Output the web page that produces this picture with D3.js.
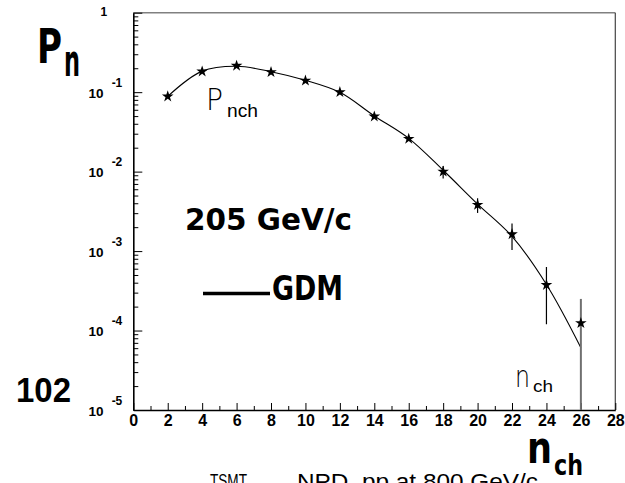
<!DOCTYPE html>
<html><head><meta charset="utf-8">
<script src="https://cdn.jsdelivr.net/npm/d3@7"></script>
<style>
html,body{margin:0;padding:0;background:#fff;}
svg{display:block;}
</style></head><body>
<script>
// Charged multiplicity distribution P(n_ch), 205 GeV/c, with GDM fit
const nch   = [2, 4, 6, 8, 10, 12, 14, 16, 18, 20, 22, 24, 26];
const pn    = [0.0883, 0.182, 0.215, 0.179, 0.140, 0.100, 0.0494, 0.0259, 0.0100, 0.00382, 0.00163, 0.000375, 0.000124];
const pnErr = [0, 0, 0, 0, 0, 0, 0, 0.0015, 0.0018, 0.0008, 0.0006, 0.000255, 0.000126];
const gdm   = [0.0885, 0.184, 0.212, 0.181, 0.141, 0.0995, 0.0502, 0.0262, 0.0104, 0.0039, 0.00153, 0.00038, 0.0000609];
const xMajor = [0, 2, 4, 6, 8, 10, 12, 14, 16, 18, 20, 22, 24, 26, 28];
const xMinor = [1, 3, 5, 7, 9, 11, 13, 15, 17, 19, 21, 23, 25, 27];
const yDecades = [1e-5, 1e-4, 1e-3, 1e-2, 1e-1, 1];
const yExponents = ["-5", "-4", "-3", "-2", "-1", "0"];

const W = 625, H = 483;
const frame = {left: 133.3, right: 615.3, top: 12.7, bottom: 410};

const x = d3.scaleLinear().domain([0, 28]).range([frame.left, frame.right]);
const y = d3.scaleLog().domain([1e-5, 1]).range([frame.bottom, frame.top]);

const svg = d3.select("body").append("svg").attr("width", W).attr("height", H);

const tickFont = "'Liberation Sans', Arial, sans-serif";
const comic = "'Comic Sans MS', 'DejaVu Sans', sans-serif";

// top and right frame lines
svg.append("line").attr("x1", frame.left).attr("x2", frame.right)
  .attr("y1", frame.top).attr("y2", frame.top)
  .attr("stroke", "#808080").attr("stroke-width", 1.5);
svg.append("line").attr("x1", frame.right).attr("x2", frame.right)
  .attr("y1", frame.top).attr("y2", frame.bottom)
  .attr("stroke", "#444").attr("stroke-width", 1.2);

// x axis: major ticks with labels, minor ticks without
const gxMinor = svg.append("g").attr("transform", `translate(0,${frame.bottom})`)
  .call(d3.axisBottom(x).tickValues(xMinor).tickSizeInner(-4).tickSizeOuter(0).tickFormat(""));
gxMinor.select(".domain").remove();
const gx = svg.append("g").attr("transform", `translate(0,${frame.bottom})`)
  .call(d3.axisBottom(x).tickValues(xMajor).tickSizeInner(-7).tickSizeOuter(0).tickPadding(5).tickFormat(d3.format("d")));
gx.select(".domain").attr("stroke-width", 1.6);
gx.selectAll("text").attr("font-family", tickFont).attr("font-weight", "bold")
  .attr("font-size", 16).attr("fill", "#000");

// y axis: decade ticks with 10^k labels, minor ticks at 2..9
const yMinor = [];
for (let k = -5; k < 0; k++) for (let j = 2; j <= 9; j++) yMinor.push(j * Math.pow(10, k));
const gyMinor = svg.append("g").attr("transform", `translate(${frame.left},0)`)
  .call(d3.axisLeft(y).tickValues(yMinor).tickSizeInner(-5).tickSizeOuter(0).tickFormat(""));
gyMinor.select(".domain").remove();
const gy = svg.append("g").attr("transform", `translate(${frame.left},0)`)
  .call(d3.axisLeft(y).tickValues(yDecades).tickSizeInner(-9).tickSizeOuter(0).tickPadding(11).tickFormat(""));
gy.select(".domain").attr("stroke-width", 1.6);
gy.selectAll(".tick text").each(function(d, i) {
  const t = d3.select(this)
    .attr("font-family", tickFont).attr("font-weight", "bold").attr("font-size", 13.5).attr("fill", "#000");
  if (d === 1) {
    t.attr("x", -26).attr("dy", "0.2em").attr("font-size", 12).text("1");
  } else {
    t.attr("dy", "0.38em").text("10");
    t.append("tspan").attr("dx", 8).attr("dy", -11).attr("font-size", 12).text(yExponents[i]);
  }
});

// GDM curve
const line = d3.line().x((d, i) => x(nch[i])).y(d => y(d)).curve(d3.curveCatmullRom.alpha(0.5));
svg.append("path").datum(gdm).attr("d", line)
  .attr("fill", "none").attr("stroke", "#000").attr("stroke-width", 1.1);

// error bars
nch.forEach((n, i) => {
  if (!pnErr[i]) return;
  const lo = Math.max(pn[i] - pnErr[i], 1e-5);
  const hi = pn[i] + pnErr[i];
  const last = i === nch.length - 1;
  svg.append("line").attr("x1", x(n)).attr("x2", x(n))
    .attr("y1", y(hi)).attr("y2", y(lo))
    .attr("stroke", last ? "#707070" : "#000").attr("stroke-width", last ? 2 : 1.2);
});

// data points
const star = d3.symbol().type(d3.symbolStar).size(42);
svg.append("g").selectAll("path").data(pn).join("path")
  .attr("d", star)
  .attr("transform", (d, i) => `translate(${x(nch[i])},${y(d)})`)
  .attr("fill", "#000");

// axis titles
svg.append("text").attr("x", 37).attr("y", 63).attr("font-family", comic).attr("font-weight", "bold")
  .attr("font-size", 48).attr("textLength", 25).attr("lengthAdjust", "spacingAndGlyphs").text("P");
svg.append("text").attr("x", 64).attr("y", 76).attr("font-family", comic).attr("font-weight", "bold")
  .attr("font-size", 44).attr("textLength", 16).attr("lengthAdjust", "spacingAndGlyphs").text("n");
svg.append("text").attr("x", 527).attr("y", 463).attr("font-family", comic).attr("font-weight", "bold")
  .attr("font-size", 44).attr("textLength", 25).attr("lengthAdjust", "spacingAndGlyphs").text("n");
svg.append("text").attr("x", 554).attr("y", 475).attr("font-family", comic).attr("font-weight", "bold")
  .attr("font-size", 29).attr("textLength", 29).attr("lengthAdjust", "spacingAndGlyphs").text("ch");

// annotations inside the frame
svg.append("text").attr("x", 206).attr("y", 110).attr("font-family", "'DejaVu Sans', sans-serif").attr("font-weight", 200)
  .attr("font-size", 30).attr("textLength", 17).attr("lengthAdjust", "spacingAndGlyphs").attr("fill", "#000").text("P");
svg.append("text").attr("x", 227).attr("y", 117).attr("font-family", tickFont)
  .attr("font-size", 18).attr("textLength", 31).attr("lengthAdjust", "spacingAndGlyphs").text("nch");
svg.append("text").attr("x", 515).attr("y", 387).attr("font-family", "'DejaVu Sans', sans-serif").attr("font-weight", 200)
  .attr("font-size", 30).attr("textLength", 15).attr("lengthAdjust", "spacingAndGlyphs").attr("fill", "#000").text("n");
svg.append("text").attr("x", 533).attr("y", 392).attr("font-family", tickFont)
  .attr("font-size", 16).attr("textLength", 20).attr("lengthAdjust", "spacingAndGlyphs").text("ch");

svg.append("text").attr("x", 185).attr("y", 230).attr("font-family", comic).attr("font-weight", "bold")
  .attr("font-size", 30).attr("textLength", 167).attr("lengthAdjust", "spacingAndGlyphs").text("205 GeV/c");

// legend
svg.append("line").attr("x1", 203).attr("x2", 270).attr("y1", 293.5).attr("y2", 293.5)
  .attr("stroke", "#000").attr("stroke-width", 3.5);
svg.append("text").attr("x", 272).attr("y", 300).attr("font-family", comic).attr("font-weight", "bold")
  .attr("font-size", 34).attr("textLength", 71).attr("lengthAdjust", "spacingAndGlyphs").text("GDM");

// figure number and caption
svg.append("text").attr("x", 16).attr("y", 402).attr("font-family", tickFont).attr("font-weight", "bold")
  .attr("font-size", 35).attr("textLength", 55).attr("lengthAdjust", "spacingAndGlyphs").text("102");
svg.append("text").attr("x", 210).attr("y", 487).attr("font-family", tickFont)
  .attr("font-size", 19).attr("textLength", 37).attr("lengthAdjust", "spacingAndGlyphs").text("TSMT");
svg.append("text").attr("x", 297).attr("y", 489).attr("font-family", tickFont)
  .attr("font-size", 22).attr("textLength", 241).attr("lengthAdjust", "spacingAndGlyphs").text("NPD, pp at 800 GeV/c");
</script>
</body></html>
